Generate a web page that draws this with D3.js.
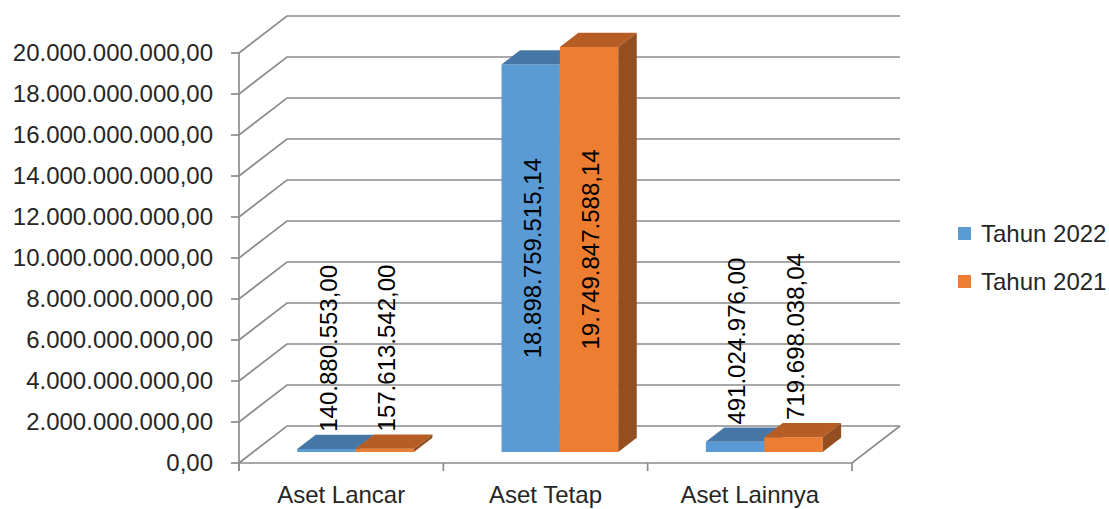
<!DOCTYPE html>
<html>
<head>
<meta charset="utf-8">
<script src="https://cdn.jsdelivr.net/npm/d3@7"></script>
<style>
  body { margin: 0; background: #fff; }
  svg { display: block; font-family: 'Liberation Sans', Arial, sans-serif; }
</style>
</head>
<body>
<svg id="chart" width="1109" height="509"></svg>
<script>
	var categories = ['Aset Lancar', 'Aset Tetap', 'Aset Lainnya'];
	var seriesNames = ['Tahun 2022', 'Tahun 2021'];
	var tahun2022 = [140880553.00, 18898759515.14, 491024976.00];
	var tahun2021 = [157613542.00, 19749847588.14, 719698038.04];
	var yTicks = [0, 2e9, 4e9, 6e9, 8e9, 10e9, 12e9, 14e9, 16e9, 18e9, 20e9];

	var seriesColors = [
		{ front: '#5b9bd5', top: '#4676a6', side: '#3e6a96' },
		{ front: '#ed7d31', top: '#b65d25', side: '#954e1f' }
	];
	var gridColor = '#8c8c8c';

	var idLocale = d3.formatLocale({ decimal: ',', thousands: '.', grouping: [3], currency: ['Rp', ''] });
	var fmt = idLocale.format(',.2f');

	var svg = d3.select('#chart');

	// oblique 3d: wall depth offset and where bars sit in that depth
	var wallDx = 48, wallDy = -37;
	var barF0 = 0.30, barF1 = 0.685;
	function proj(x, y, f) { return [x + f * wallDx, y + f * wallDy]; }

	var y = d3.scaleLinear().domain([0, 20e9]).range([463, 53]);
	var x0 = d3.scaleBand().domain(categories).range([239, 852]).padding(0);
	var x1 = d3.scaleBand().domain(seriesNames).range([0, x0.bandwidth()])
		.paddingInner(0).paddingOuter(0.75);

	var walls = svg.append('g')
		.attr('fill', 'none')
		.attr('stroke', gridColor)
		.attr('stroke-width', 1.7);

	// left wall diagonals + back wall gridlines
	yTicks.forEach(function(t){
		var a = [239, y(t)], b = proj(239, y(t), 1), c = proj(852, y(t), 1);
		walls.append('path').attr('d', 'M' + a + 'L' + b + 'L' + c);
	});
	// floor front edge + right edge
	walls.append('path').attr('d', 'M239,' + y(0) + 'L852,' + y(0) + 'L' + proj(852, y(0), 1));
	// value axis
	walls.append('line').attr('x1', 239).attr('x2', 239).attr('y1', y(20e9)).attr('y2', y(0) + 8);
	yTicks.forEach(function(t){
		walls.append('line').attr('x1', 231).attr('x2', 239).attr('y1', y(t)).attr('y2', y(t));
	});
	// category ticks
	var catEdges = categories.map(function(c){ return x0(c); }).concat([852]);
	catEdges.forEach(function(cx){
		walls.append('line').attr('x1', cx).attr('x2', cx).attr('y1', y(0)).attr('y2', y(0) + 8);
	});

	svg.append('g').selectAll('text').data(yTicks).enter().append('text')
		.attr('x', 213)
		.attr('y', function(d){ return y(d); })
		.attr('dy', '0.35em')
		.attr('text-anchor', 'end')
		.attr('font-size', 24)
		.attr('fill', '#262626')
		.text(function(d){ return fmt(d); });

	svg.append('g').selectAll('text').data(categories).enter().append('text')
		.attr('x', function(d){ return x0(d) + x0.bandwidth() / 2; })
		.attr('y', 503)
		.attr('text-anchor', 'middle')
		.attr('font-size', 24)
		.attr('fill', '#262626')
		.text(function(d){ return d; });

	// bars
	var values = [tahun2022, tahun2021];
	var barsG = svg.append('g');
	var labels = [];
	categories.forEach(function(cat, ci){
		seriesNames.forEach(function(s, si){
			var v = values[si][ci];
			var xl = x0(cat) + x1(s), xr = xl + x1.bandwidth();
			var yb = y(0), yt = y(v);
			var col = seriesColors[si];
			var fl = proj(xl, yb, barF0), fr = proj(xr, yb, barF0);
			var tl = proj(xl, yt, barF0), tr = proj(xr, yt, barF0);
			var btl = proj(xl, yt, barF1), btr = proj(xr, yt, barF1), bbr = proj(xr, yb, barF1);
			barsG.append('path').attr('fill', col.front)
				.attr('d', 'M' + fl + 'L' + fr + 'L' + tr + 'L' + tl + 'Z');
			barsG.append('path').attr('fill', col.top)
				.attr('d', 'M' + tl + 'L' + tr + 'L' + btr + 'L' + btl + 'Z');
			barsG.append('path').attr('fill', col.side)
				.attr('d', 'M' + fr + 'L' + bbr + 'L' + btr + 'L' + tr + 'Z');
			labels.push({ v: v, cx: (fl[0] + fr[0]) / 2 + 2, frontTop: tl[1], frontBottom: fl[1], backTop: btl[1] });
		});
	});

	var labelG = svg.append('g');
	labels.forEach(function(d){
		var t = labelG.append('text')
			.attr('font-size', 24)
			.attr('fill', '#000')
			.text(fmt(d.v));
		var len = t.node().getComputedTextLength();
		var yBottom;
		if (d.backTop - 3 - len > 20) {
			yBottom = d.backTop - 3;
		} else {
			yBottom = (d.frontTop + d.frontBottom) / 2 + len / 2;
		}
		t.attr('text-anchor', 'start')
			.attr('dy', '0.35em')
			.attr('transform', 'translate(' + d.cx + ',' + yBottom + ') rotate(-90)');
	});

	// legend
	var legend = svg.append('g').selectAll('g').data(seriesNames).enter().append('g')
		.attr('transform', function(d, i){ return 'translate(958,' + (234 + i * 48) + ')'; });
	legend.append('rect')
		.attr('x', 0).attr('y', -7).attr('width', 13).attr('height', 13)
		.attr('fill', function(d, i){ return seriesColors[i].front; });
	legend.append('text')
		.attr('x', 23).attr('dy', '0.35em')
		.attr('font-size', 24)
		.attr('fill', '#262626')
		.text(function(d){ return d; });
</script>
</body>
</html>
